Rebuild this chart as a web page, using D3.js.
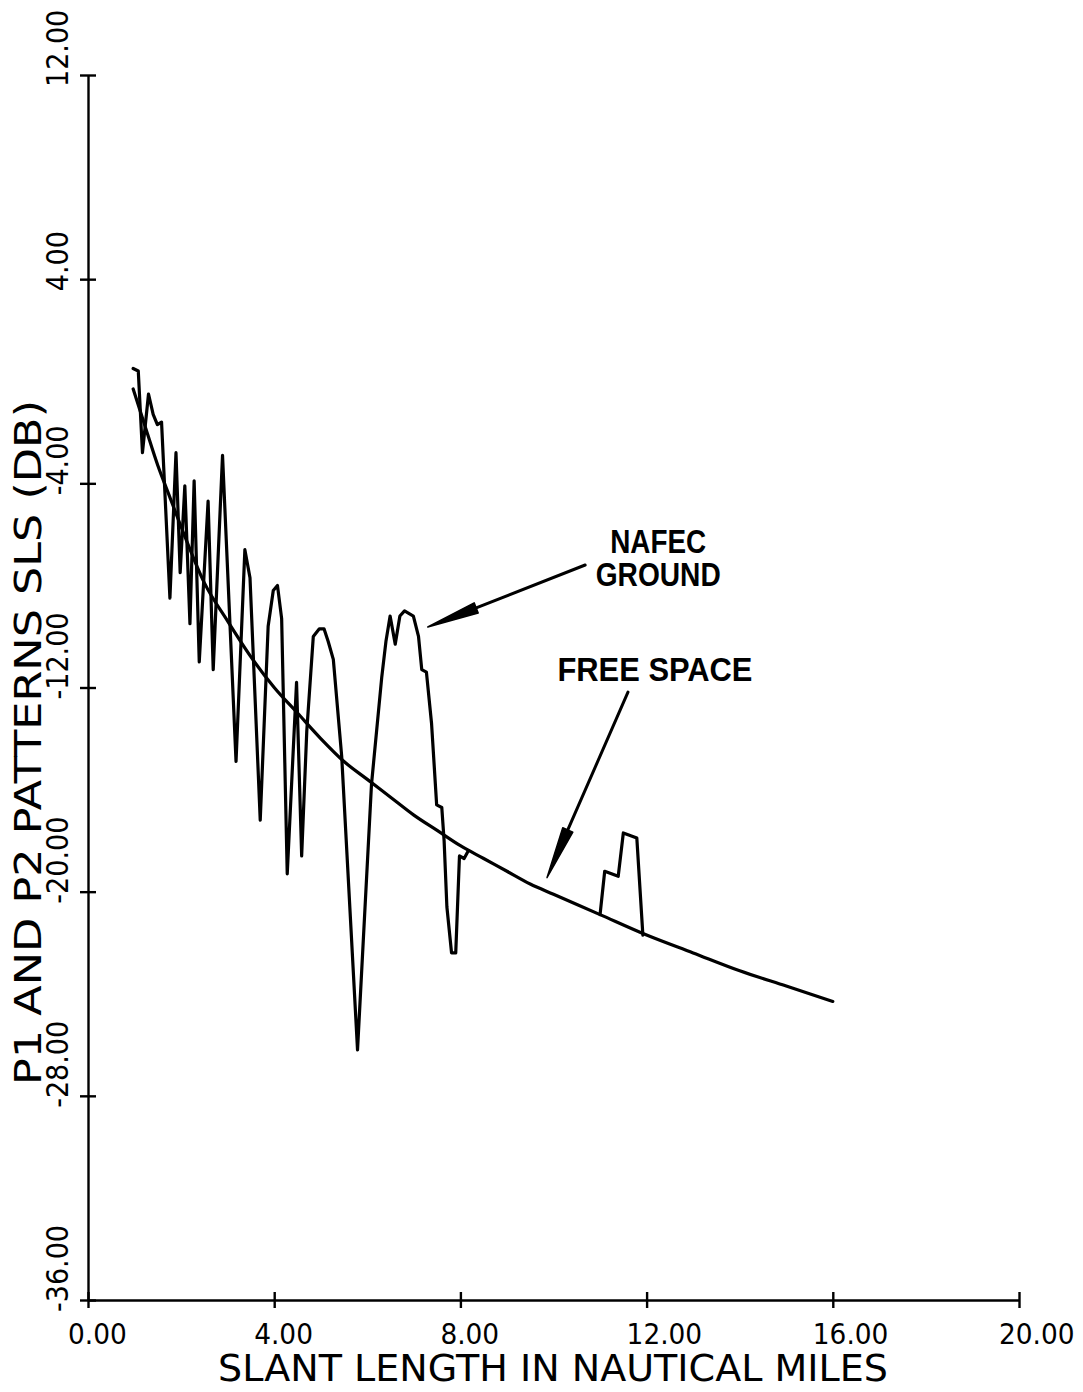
<!DOCTYPE html>
<html>
<head>
<meta charset="utf-8">
<script src="https://cdn.jsdelivr.net/npm/d3@7"></script>
<style>
  html, body { margin: 0; padding: 0; background: #fff; }
  svg { display: block; }
  text { font-family: "DejaVu Sans", "Liberation Sans", sans-serif; fill: #000; }
  .note { font-family: "Liberation Sans", "DejaVu Sans", sans-serif; font-weight: bold; }
</style>
</head>
<body>
<svg id="chart" width="1083" height="1392"></svg>
<script>
// Slant range (nautical miles) and free-space SLS pattern level (dB)
const freeX = [0.97, 1.25, 1.5, 1.75, 2.0, 2.5, 3.0, 3.5, 4.0, 4.5, 5.0, 5.5, 6.0, 6.5, 7.0, 7.5,
               8.0, 8.5, 9.0, 9.5, 10.0, 11.0, 12.0, 13.0, 14.0, 15.0, 16.0];
const freeY = [-0.3, -1.9, -3.3, -4.5, -5.7, -7.9, -9.4, -10.8, -12.0, -13.0, -14.0, -14.9, -15.6, -16.3, -17.0, -17.6,
               -18.2, -18.7, -19.2, -19.7, -20.1, -20.9, -21.7, -22.4, -23.1, -23.7, -24.3];

// NAFEC ground pattern (null = follows the free-space curve, not redrawn)
const groundX = [0.97, 1.08, 1.17, 1.30, 1.40, 1.49, 1.58, 1.76, 1.89, 1.98, 2.08, 2.19, 2.28, 2.39, 2.58, 2.69,
                 2.89, 3.18, 3.37, 3.48, 3.70, 3.87, 3.98, 4.07, 4.16, 4.28, 4.48, 4.59, 4.70, 4.84, 4.97, 5.07,
                 5.16, 5.27, 5.45, 5.79, 6.09, 6.31, 6.40, 6.49, 6.60, 6.70, 6.80, 6.99, 7.10, 7.17, 7.27, 7.38,
                 7.49, 7.60, 7.65, 7.71, 7.81, 7.90, 7.98, 8.08, 8.17, 9.5,
                 11.00, 11.10, 11.39, 11.50, 11.79, 11.92];
const groundY = [0.5, 0.4, -2.8, -0.5, -1.3, -1.7, -1.6, -8.5, -2.8, -7.5, -4.1, -9.5, -3.9, -11.0, -4.7, -11.3,
                 -2.9, -14.9, -6.6, -7.7, -17.2, -9.6, -8.2, -8.0, -9.3, -19.3, -11.8, -18.6, -13.7, -10.0, -9.7, -9.7,
                 -10.2, -10.9, -14.7, -26.2, -15.8, -11.6, -10.2, -9.2, -10.3, -9.2, -9.0, -9.2, -10.0, -11.3, -11.4, -13.4,
                 -16.6, -16.7, -18.0, -20.6, -22.4, -22.4, -18.6, -18.7, -18.4, null,
                 -20.9, -19.2, -19.4, -17.7, -17.9, -21.7];

// Axis ticks and labels
const xTicks = [0, 4, 8, 12, 16, 20];
const xTickLabels = ["0.00", "4.00", "8.00", "12.00", "16.00", "20.00"];
const yTicks = [12, 4, -4, -12, -20, -28, -36];
const yTickLabels = ["12.00", "4.00", "-4.00", "-12.00", "-20.00", "-28.00", "-36.00"];

const xTitle = "SLANT LENGTH IN NAUTICAL MILES";
const yTitle = "P1 AND P2 PATTERNS SLS (DB)";

// Callouts: text lines, anchor point, and arrow tail/tip in data units
const callouts = [
  { lines: ["NAFEC", "GROUND"], x: 12.25, y: -6.73, widths: [96, 125], tail: [10.68, -7.2], tip: [7.30, -9.63] },
  { lines: ["FREE SPACE"], x: 12.18, y: -11.75, widths: [195], tail: [11.6, -12.18], tip: [9.86, -19.45] }
];

const svg = d3.select("#chart");
const x = d3.scaleLinear().domain([0, 20]).range([88, 1019]);
const y = d3.scaleLinear().domain([-36, 12]).range([1300, 75]);

// condense a text element horizontally by a factor
function condense(sel, k) {
  sel.each(function () {
    const w = this.getComputedTextLength();
    d3.select(this).attr("textLength", w * k).attr("lengthAdjust", "spacingAndGlyphs");
  });
}

// X axis with ticks crossing the line
const xAxis = d3.axisBottom(x).tickValues(xTicks).tickSizeOuter(0).tickFormat("");
const gx = svg.append("g").attr("transform", `translate(0,${y(-36)})`).call(xAxis);
gx.select(".domain").attr("stroke", "#000").attr("stroke-width", 2.4);
gx.selectAll(".tick line").attr("y1", -8).attr("y2", 8).attr("stroke", "#000").attr("stroke-width", 2.4);

// Y axis
const yAxis = d3.axisLeft(y).tickValues(yTicks).tickSizeOuter(0).tickFormat("");
const gy = svg.append("g").attr("transform", `translate(${x(0)},0)`).call(yAxis);
gy.select(".domain").attr("stroke", "#000").attr("stroke-width", 2.4);
gy.selectAll(".tick line").attr("x1", -8).attr("x2", 8).attr("stroke", "#000").attr("stroke-width", 2.4);

// X tick labels
svg.append("g").selectAll("text").data(xTicks).join("text")
  .attr("x", d => x(d) - 20)
  .attr("y", 1344)
  .attr("font-size", 29)
  .text((d, i) => xTickLabels[i])
  .call(condense, 0.91);

// Y tick labels, rotated to read upward
svg.append("g").selectAll("text").data(yTicks).join("text")
  .attr("transform", d => `translate(68,${y(d) + 12}) rotate(-90)`)
  .attr("font-size", 30)
  .text((d, i) => yTickLabels[i])
  .call(condense, 0.9);

// Axis titles
svg.append("text")
  .attr("x", 553).attr("y", 1381)
  .attr("text-anchor", "middle")
  .attr("font-size", 37)
  .attr("textLength", 670).attr("lengthAdjust", "spacingAndGlyphs")
  .text(xTitle);

svg.append("text")
  .attr("transform", `translate(41,${(1085 + 400) / 2}) rotate(-90)`)
  .attr("text-anchor", "middle")
  .attr("font-size", 38)
  .attr("textLength", 685).attr("lengthAdjust", "spacingAndGlyphs")
  .text(yTitle);

// Curves
const freeLine = d3.line()
  .curve(d3.curveMonotoneX)
  .x(d => x(d[0]))
  .y(d => y(d[1]));

const groundLine = d3.line()
  .defined(d => d[1] !== null)
  .x(d => x(d[0]))
  .y(d => y(d[1]));

svg.append("path")
  .datum(freeX.map((v, i) => [v, freeY[i]]))
  .attr("d", freeLine)
  .attr("fill", "none").attr("stroke", "#000").attr("stroke-width", 3.2)
  .attr("stroke-linejoin", "round").attr("stroke-linecap", "round");

svg.append("path")
  .datum(groundX.map((v, i) => [v, groundY[i]]))
  .attr("d", groundLine)
  .attr("fill", "none").attr("stroke", "#000").attr("stroke-width", 3.2)
  .attr("stroke-linejoin", "round").attr("stroke-linecap", "round");

// Callout labels and arrows
callouts.forEach(c => {
  c.lines.forEach((t, i) => {
    svg.append("text")
      .attr("class", "note")
      .attr("x", x(c.x)).attr("y", y(c.y) + i * 33)
      .attr("text-anchor", "middle")
      .attr("font-size", 34)
      .attr("textLength", c.widths[i]).attr("lengthAdjust", "spacingAndGlyphs")
      .text(t);
  });
  const x0 = x(c.tail[0]), y0 = y(c.tail[1]);
  const x1 = x(c.tip[0]), y1 = y(c.tip[1]);
  const len = Math.hypot(x1 - x0, y1 - y0);
  const ux = (x1 - x0) / len, uy = (y1 - y0) / len;
  const headLen = 52, headHalf = 5.5;
  const bx = x1 - ux * headLen, by = y1 - uy * headLen;
  svg.append("line")
    .attr("x1", x0).attr("y1", y0).attr("x2", bx).attr("y2", by)
    .attr("stroke", "#000").attr("stroke-width", 3).attr("stroke-linecap", "round");
  svg.append("path")
    .attr("d", `M${x1},${y1}L${bx - uy * headHalf},${by + ux * headHalf}L${bx + uy * headHalf},${by - ux * headHalf}Z`)
    .attr("fill", "#000").attr("stroke", "#000").attr("stroke-width", 1.5).attr("stroke-linejoin", "round");
});
</script>
</body>
</html>
